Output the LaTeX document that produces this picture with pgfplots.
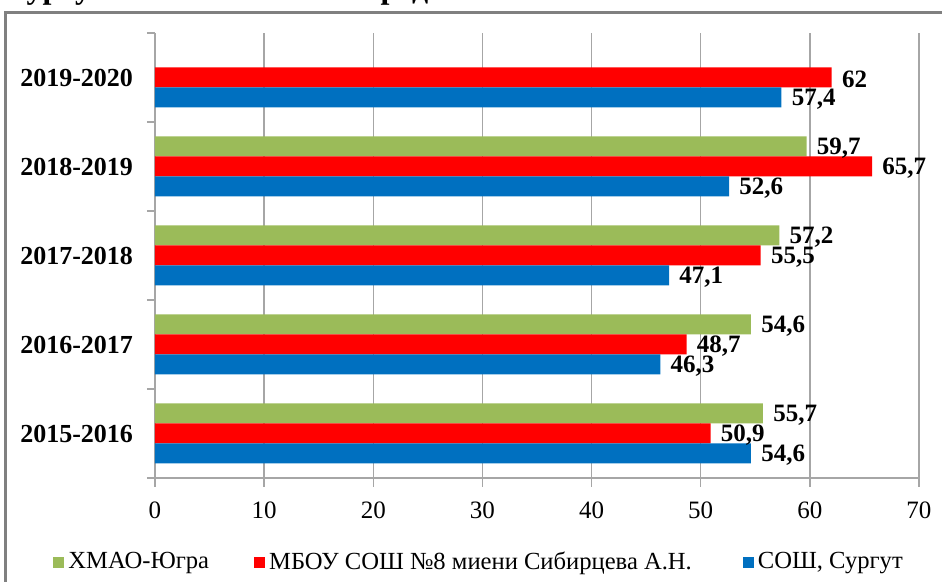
\documentclass[border=0pt]{standalone}
\usepackage{fontspec}
\setmainfont{Liberation Serif}
\usepackage{pgfplots}
\pgfplotsset{compat=1.18}
\definecolor{cgreen}{HTML}{9BBB59}
\definecolor{cred}{HTML}{FF0000}
\definecolor{cblue}{HTML}{0070C0}
\definecolor{cgrid}{HTML}{A6A6A6}
\definecolor{cframe}{HTML}{808080}

\begin{document}
\begin{tikzpicture}
\clip (0,0) rectangle (471pt,291pt);
\useasboundingbox (0,0) rectangle (471pt,291pt);
% frame of the chart (only top and left edges are visible)
\draw[color=cframe, line width=1.5pt] (2.75pt,-2pt) -- (2.75pt,284.5pt) -- (473pt,284.5pt);
% cut-off title above the frame
\node[anchor=base west, inner sep=0pt, font=\bfseries\fontsize{16}{16}\selectfont] at (2pt,291.5pt) {Сургута};
\node[anchor=base west, inner sep=0pt, font=\bfseries\fontsize{16}{16}\selectfont] at (183pt,291.5pt) {средний балл};
\begin{axis}[
    at={(77.5pt,52pt)}, anchor=south west,
    width=382pt, height=222.5pt, scale only axis,
    xbar, bar width=10pt,
    xmin=0, xmax=70, ymin=-0.5, ymax=4.5,
    xtick={0,10,...,70},
    ytick={0,...,4},
    yticklabels={2015-2016,2016-2017,2017-2018,2018-2019,2019-2020},
    minor ytick={-0.5,0.5,...,4.5},
    axis x line*=bottom, axis y line*=left,
    axis line style={cgrid, line width=0.75pt, -},
    xmajorgrids, grid style={cgrid, line width=0.75pt},
    tick align=outside,
    major tick length=4.5pt, minor tick length=4pt,
    every major x tick/.append style={cgrid, line width=0.75pt},
    every major y tick/.append style={draw=none},
    every minor y tick/.append style={cgrid, line width=0.75pt},
    /pgf/number format/assume math mode=true,
    /pgf/number format/use comma,
    xticklabel style={font=\fontsize{12.5}{12.5}\selectfont, yshift=-4pt},
    yticklabel style={font=\bfseries\fontsize{13}{13}\selectfont, xshift=-3pt},
    point meta=x,
    nodes near coords,
    nodes near coords style={anchor=west, inner sep=0pt, xshift=5pt, yshift=-1pt,
        font=\bfseries\fontsize{12.5}{12.5}\selectfont},
    legend style={at={(-0.1335,-0.189)}, anchor=west, draw=none, fill=none,
        inner sep=0pt, legend columns=3, font=\fontsize{12.3}{12.3}\selectfont,
        /tikz/every even column/.append style={column sep=20.5pt}},
    legend image code/.code={\draw[#1,draw=none] (0pt,-2.75pt) rectangle (5.5pt,2.75pt);},
]
\addplot[fill=cgreen, draw=none, bar shift=10pt] coordinates {(55.7,0) (54.6,1) (57.2,2) (59.7,3)};
\addlegendentry{ХМАО-Югра}
\addplot[fill=cred, draw=none, bar shift=0pt] coordinates {(50.9,0) (48.7,1) (55.5,2) (65.7,3) (62,4)};
\addlegendentry{МБОУ СОШ №8 миени Сибирцева А.Н.\kern3pt}
\addplot[fill=cblue, draw=none, bar shift=-10pt] coordinates {(54.6,0) (46.3,1) (47.1,2) (52.6,3) (57.4,4)};
\addlegendentry{СОШ,\ Сургут}
\end{axis}
\end{tikzpicture}
\end{document}
